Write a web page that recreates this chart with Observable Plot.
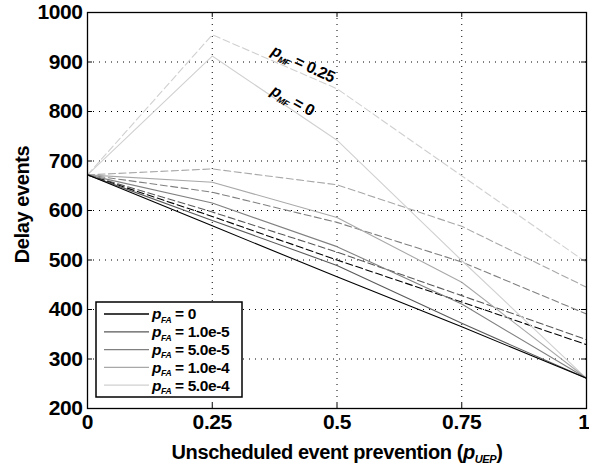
<!DOCTYPE html>
<html><head><meta charset="utf-8">
<script src="https://cdn.jsdelivr.net/npm/d3@7"></script>
<script src="https://cdn.jsdelivr.net/npm/@observablehq/plot@0.6"></script>
<style>
body{margin:0;background:#fff;}
#chart{position:relative;width:589px;height:469px;}
svg{font-family:"Liberation Sans",Arial,sans-serif;}
</style></head><body><div id="chart"></div>
<script>
// x positions (unscheduled event prevention p_UEP)
const xs = [0, 0.25, 0.5, 0.75, 1];
// p_FA categories and colours
const pfaLabels = ["0", "1.0e-5", "5.0e-5", "1.0e-4", "5.0e-4"];
const pfaColors = ["#000000", "#595959", "#808080", "#a8a8a8", "#d0d0d0"];
// p_MF = 0 (solid lines), one array per p_FA
const solidPfa0    = [672, 569, 466, 365, 261];
const solidPfa1e5  = [672, 580, 489, 372, 261];
const solidPfa5e5  = [672, 615, 527, 411, 261];
const solidPfa1e4  = [672, 657, 586, 455, 261];
const solidPfa5e4  = [672, 912, 742, 499, 261];
// p_MF = 0.25 (dashed lines)
const dashedPfa0   = [672, 588, 500, 415, 329];
const dashedPfa1e5 = [672, 597, 516, 428, 339];
const dashedPfa5e5 = [672, 637, 576, 496, 391];
const dashedPfa1e4 = [672, 684, 652, 568, 445];
const dashedPfa5e4 = [672, 955, 846, 670, 495];
// ticks
const xTicks = [0, 0.25, 0.5, 0.75, 1];
const yTicks = [200, 300, 400, 500, 600, 700, 800, 900, 1000];
// annotations (data coordinates)
const annotations = [
  {x: 0.432, y: 896, label: "p_{MF} = 0.25", rotate: 25},
  {x: 0.411, y: 822, label: "p_{MF} = 0", rotate: 29}
];
const xLabel = "Unscheduled event prevention (p_{UEP})";
const yLabel = "Delay events";

const solidSeries = [solidPfa0, solidPfa1e5, solidPfa5e5, solidPfa1e4, solidPfa5e4];
const dashedSeries = [dashedPfa0, dashedPfa1e5, dashedPfa5e5, dashedPfa1e4, dashedPfa5e4];
function rows(series, kind) {
  const out = [];
  for (let i = series.length - 1; i >= 0; i--) {
    series[i].forEach((v, j) => out.push({x: xs[j], y: v, s: kind + i, color: pfaColors[i]}));
  }
  return out;
}
const solidRows = rows(solidSeries, "s");
const dashedRows = rows(dashedSeries, "d");

const W = 589, H = 469;
const txt = {fontWeight: "bold", fill: "#000"};
const plot = Plot.plot({
  width: W, height: H,
  marginLeft: 87, marginRight: 3, marginTop: 12, marginBottom: 61,
  x: {domain: [0, 1], axis: null},
  y: {domain: [200, 1000], axis: null},
  color: {type: "identity"},
  style: {fontFamily: "'Liberation Sans', Arial, sans-serif", background: "#fff", overflow: "visible"},
  marks: [
    Plot.ruleX(xTicks.slice(1, -1), {x: d => d, stroke: "#000", strokeWidth: 1, strokeDasharray: "1,5"}),
    Plot.ruleY(yTicks.slice(1, -1), {y: d => d, stroke: "#000", strokeWidth: 1, strokeDasharray: "1,5"}),
    Plot.line(dashedRows, {x: "x", y: "y", z: "s", stroke: "color", strokeWidth: 1.1, strokeDasharray: "7,3.5"}),
    Plot.line(solidRows, {x: "x", y: "y", z: "s", stroke: "color", strokeWidth: 1.1}),
    // inward tick marks
    Plot.ruleX(xTicks, {x: d => d, y1: 200, y2: 210, stroke: "#000"}),
    Plot.ruleX(xTicks, {x: d => d, y1: 990, y2: 1000, stroke: "#000"}),
    Plot.ruleY(yTicks, {y: d => d, x1: 0, x2: 0.01, stroke: "#000"}),
    Plot.ruleY(yTicks, {y: d => d, x1: 0.99, x2: 1, stroke: "#000"}),
    Plot.frame({stroke: "#000", strokeWidth: 1.3}),
    // tick labels
    Plot.text(xTicks.slice(0, -1), {x: d => d, text: d => String(d), frameAnchor: "bottom", lineAnchor: "top", dy: 6,
      fontSize: 21, ...txt}),
    Plot.text(xTicks.slice(-1), {x: d => d, text: d => String(d), frameAnchor: "bottom", lineAnchor: "top", dy: 6,
      textAnchor: "end", dx: 3, fontSize: 21, ...txt}),
    Plot.text(yTicks, {y: d => d, text: d => String(d), frameAnchor: "left", textAnchor: "end", lineAnchor: "middle", dx: -5,
      fontSize: 21, ...txt}),
    // axis titles
    Plot.text([xLabel], {text: d => d, frameAnchor: "bottom", textAnchor: "middle", lineAnchor: "middle", dy: 44,
      fontSize: 20, ...txt}),
    Plot.text([yLabel], {text: d => d, frameAnchor: "left", textAnchor: "middle", rotate: -90, lineAnchor: "middle", dx: -65, dy: -6,
      fontSize: 20, ...txt}),
    // annotations
    Plot.text(annotations, {x: "x", y: "y", text: "label", rotate: "rotate", lineAnchor: "middle",
      fontSize: 16, ...txt})
  ]
});
document.getElementById("chart").appendChild(plot);

// legend (inside plot area, lower left)
const svg = d3.select(plot);
const lg = svg.append("g").attr("class", "legend");
lg.append("rect").attr("x", 96).attr("y", 302).attr("width", 146).attr("height", 95)
  .attr("fill", "#fff").attr("stroke", "#000").attr("stroke-width", 1.5);
pfaLabels.forEach((lab, i) => {
  const yy = 314 + i * 17.8;
  lg.append("line").attr("x1", 104).attr("x2", 149).attr("y1", yy).attr("y2", yy)
    .attr("stroke", pfaColors[i]).attr("stroke-width", 1.3);
  lg.append("text").attr("x", 152).attr("y", yy).attr("dy", "0.35em")
    .attr("text-anchor", "start")
    .attr("font-size", 15.5).attr("font-weight", "bold").attr("fill", "#000")
    .text("p_{FA} = " + lab);
});

// rich text: p_{XYZ} -> italic p with italic subscript
svg.selectAll("text").each(function () {
  const t = this.textContent;
  const m = t.match(/^(.*?)p_\{(\w+)\}(.*)$/);
  if (!m) return;
  const fs = parseFloat(getComputedStyle(this).fontSize) || 16;
  const sel = d3.select(this);
  sel.text(null);
  if (m[1]) sel.append("tspan").text(m[1]);
  sel.append("tspan").attr("font-style", "italic").text("p");
  sel.append("tspan").attr("font-style", "italic").attr("font-size", fs * 0.55).attr("dy", fs * 0.22).text(m[2]);
  sel.append("tspan").attr("dy", -fs * 0.22).text(m[3]);
});
// slightly tighter letter spacing like the reference typeface
svg.selectAll("text").attr("letter-spacing", "-0.4px");
</script></body></html>
